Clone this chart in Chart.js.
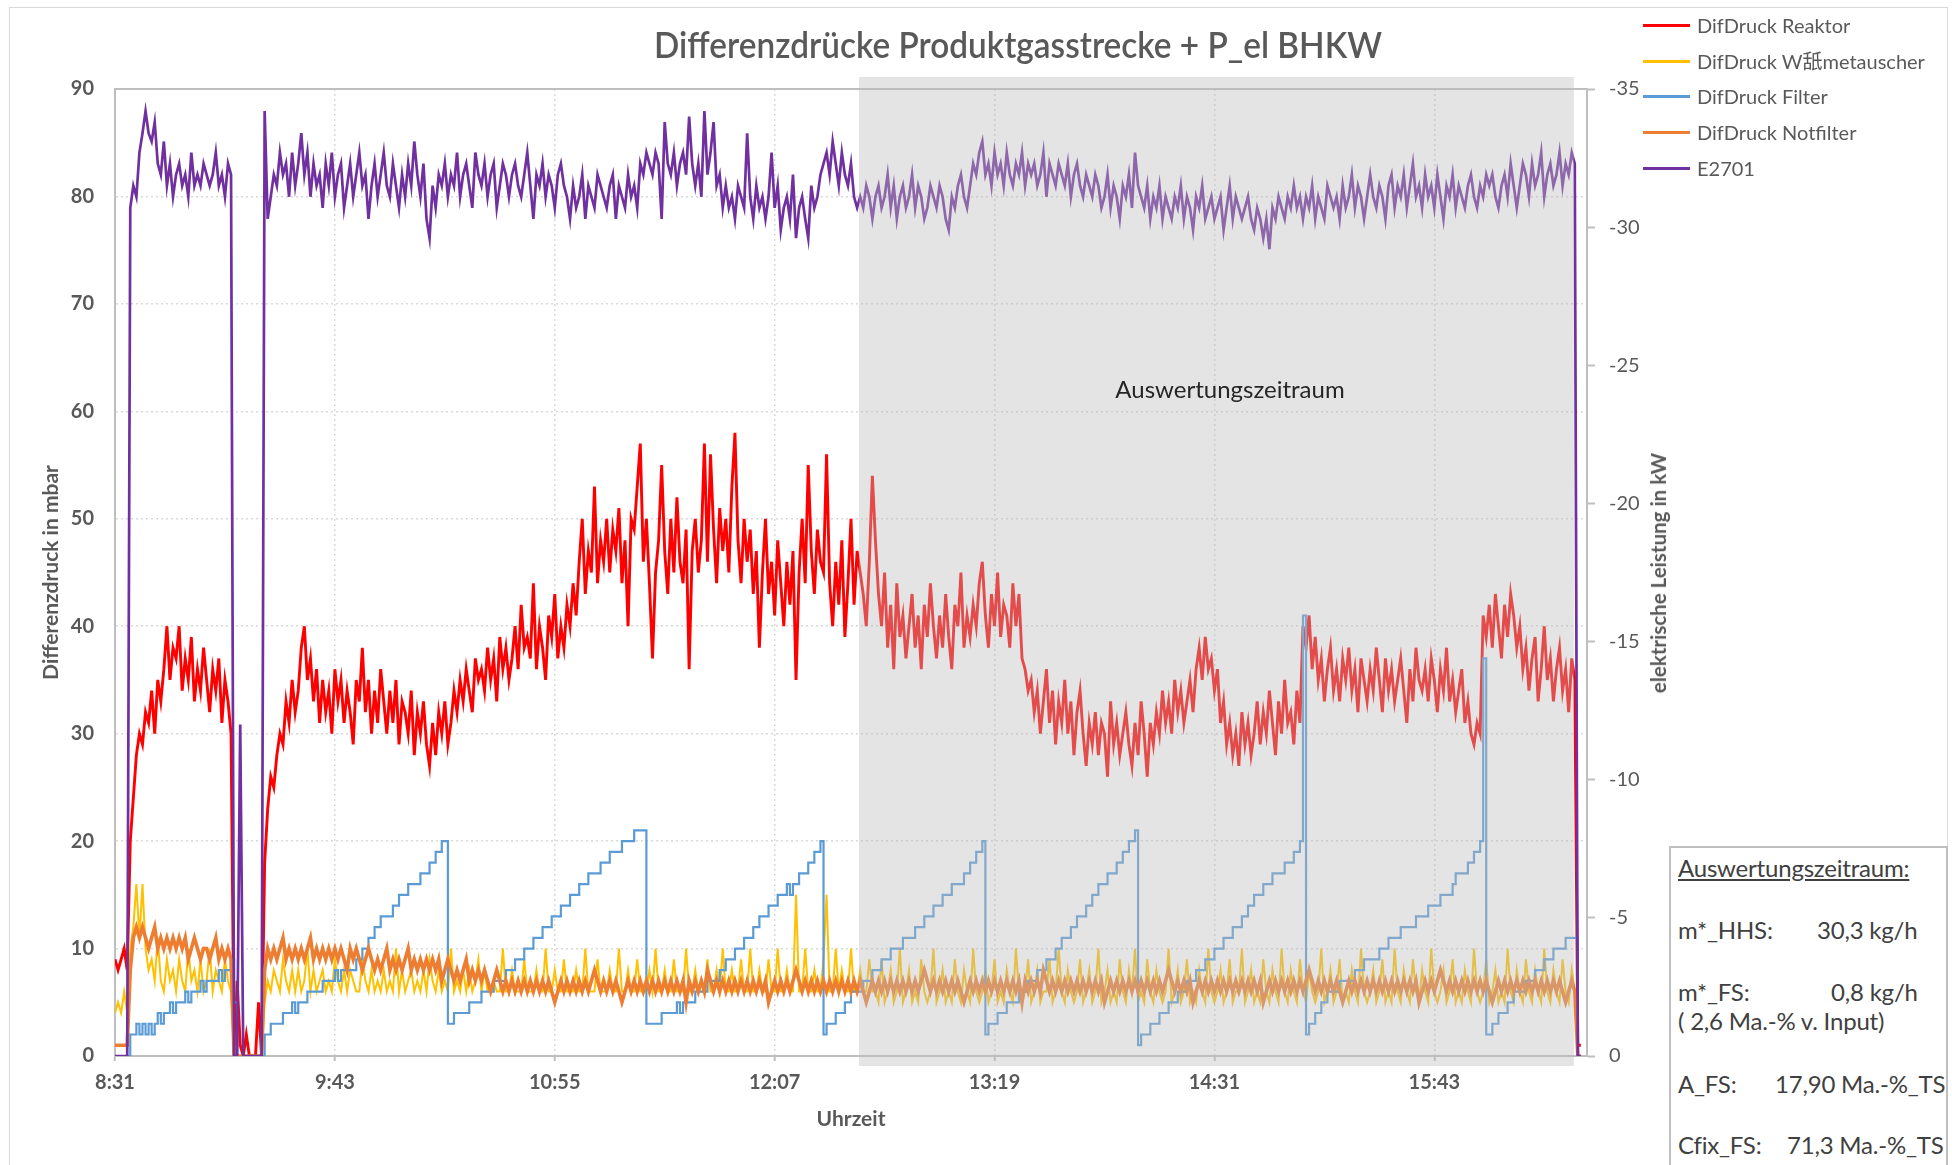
<!DOCTYPE html>
<html><head><meta charset="utf-8">
<script src="https://cdn.jsdelivr.net/npm/chart.js@4.4.1/dist/chart.umd.min.js"></script>
<style>
body{margin:0;background:#fff;}
#wrap{position:relative;width:1952px;height:1165px;overflow:hidden;font-family:Lato,"Noto Sans CJK SC",sans-serif;background:#fff;}
#c{position:absolute;left:0;top:0;}
#frame{position:absolute;left:9px;top:7px;width:1939px;height:1200px;border:1.5px solid #d9d9d9;box-sizing:border-box;}
#title{position:absolute;left:1018px;top:44px;font-size:36px;font-weight:600;color:#595959;white-space:nowrap;transform:translate(-50%,-50%);}
.lg{position:absolute;left:1643px;height:26px;white-space:nowrap;font-size:20px;color:#595959;}
.lg .ln{position:absolute;left:0;top:12px;width:47px;height:3px;}
.lg .tx{position:absolute;left:54px;top:0;line-height:26px;}
#ytitle2{position:absolute;left:1658px;top:573px;font-size:20.5px;font-weight:bold;color:#595959;white-space:nowrap;transform:translate(-50%,-50%) rotate(-90deg);}
#shadeLabel{position:absolute;left:1230px;top:388px;font-size:24px;color:#262626;white-space:nowrap;transform:translate(-50%,-50%);}
#box{position:absolute;left:1669px;top:846px;width:279px;height:340px;border:2px solid #bfbfbf;background:#fff;box-sizing:border-box;}
.bt{position:absolute;font-size:24px;color:#404040;white-space:nowrap;line-height:30px;letter-spacing:-0.2px;}
</style></head>
<body><div id="wrap">
<div id="frame"></div>
<canvas id="c" width="1952" height="1165"></canvas>
<div id="title">Differenzdrücke Produktgasstrecke + P_el BHKW</div>
<div id="legend"></div>
<div id="ytitle2">elektrische Leistung in kW</div>
<div id="shadeLabel">Auswertungszeitraum</div>
<div id="box"></div>
<div class="bt" style="left:1678px;top:853px;text-decoration:underline;">Auswertungszeitraum:</div>
<div class="bt" style="left:1678px;top:915px;">m*_HHS:</div>
<div class="bt" style="left:1817px;top:915px;">30,3 kg/h</div>
<div class="bt" style="left:1678px;top:977px;">m*_FS:</div>
<div class="bt" style="left:1831px;top:977px;">0,8 kg/h</div>
<div class="bt" style="left:1678px;top:1006px;">( 2,6 Ma.-% v. Input)</div>
<div class="bt" style="left:1678px;top:1069px;">A_FS:</div>
<div class="bt" style="left:1775px;top:1069px;">17,90 Ma.-%_TS</div>
<div class="bt" style="left:1678px;top:1130px;">Cfix_FS:</div>
<div class="bt" style="left:1787px;top:1130px;">71,3 Ma.-%_TS</div>
</div>
<script>
// ---------- data (one sample per minute, starting 8:31) ----------
const sampleMinutes = 1;
const timeTickMinutes = [0, 72, 144, 216, 288, 360, 432];
const timeTickLabels = ["8:31", "9:43", "10:55", "12:07", "13:19", "14:31", "15:43"];
const xMaxMinutes = 482;
const shadeFrom = 243.6, shadeTo = 477.7;   // Auswertungszeitraum (minutes after 8:31)

const difDruckReaktor = [
9,8,9,10,8,20,24,28,30,29,
32,31,34,30,35,33,36,40,35,38,
37,40,34,37,35,39,33,36,34,38,
35,32,36,34,37,31,35,33,30,0,
7,1,0,2,0,0,0,5,0,18,
23,26,25,28,30,29,33,31,35,32,
34,38,40,35,37,33,36,31,35,32,
34,30,36,33,35,31,34,32,29,35,
33,38,32,35,30,34,31,36,33,30,
34,31,35,29,33,32,30,34,28,32,
30,33,29,27,31,28,32,30,33,29,
31,34,32,35,33,36,34,32,37,35,
36,34,38,35,37,33,39,36,38,35,
37,40,36,42,38,39,37,44,36,40,
38,35,41,39,43,37,40,38,42,40,
44,41,46,50,43,47,45,53,44,48,
46,50,45,49,47,51,44,48,40,50,
49,53,57,46,50,44,37,45,48,55,
47,43,50,45,52,46,44,49,36,47,
50,45,48,57,46,56,49,44,51,47,
50,45,53,58,48,44,50,46,49,43,
47,38,45,50,43,46,41,48,44,40,
46,42,47,35,45,50,44,55,47,43,
49,46,45,56,44,40,46,42,48,39,
44,50,42,47,45,43,40,46,54,48,
43,40,45,38,42,36,44,39,41,37,
40,43,38,41,36,42,39,44,40,37,
41,38,43,39,36,42,40,45,38,41,
39,42,40,44,46,41,38,43,40,45,
39,42,41,38,44,40,43,37,36,34,
35,32,34,30,33,36,31,34,29,33,
31,35,30,33,28,32,34,30,27,31,
29,32,28,31,30,26,33,29,31,28,
30,32,29,27,31,28,33,30,26,31,
29,32,30,34,31,33,30,35,32,34,
31,33,35,32,36,38,35,39,36,37,
34,36,31,33,29,31,28,30,27,32,
29,31,28,30,33,29,32,30,34,31,
28,33,30,35,31,32,29,34,31,40,
38,41,36,39,35,37,33,36,38,34,
36,33,37,35,38,34,36,32,37,35,
33,36,34,38,35,32,37,34,36,33,
35,37,34,31,36,33,38,35,34,36,
33,37,35,32,36,34,38,33,35,32,
34,36,31,33,30,29,31,30,41,39,
42,38,43,40,37,42,39,43,41,38,
40,36,38,34,37,39,33,36,40,35,
37,33,36,38,34,36,32,37,35,1,
1];

const difDruckWaermetauscher = [
4,5,4,6,4,10,12,16,11,16,
10,8,9,7,11,7,6,9,7,8,
6,9,7,6,10,7,8,6,9,6,
7,10,6,8,7,6,9,7,6,0,
0,0,0,0,0,0,0,0,0,5,
7,6,8,7,6,9,7,6,8,6,
8,6,7,10,6,8,6,7,8,6,
7,6,9,7,6,8,6,8,7,6,
6,9,7,6,8,6,7,6,8,6,
7,6,10,6,8,6,7,8,6,7,
6,8,6,9,7,6,8,6,7,6,
10,6,7,6,8,6,8,6,7,9,
6,8,6,6,7,6,6,10,6,6,
8,6,6,6,9,6,6,6,8,6,
6,10,6,6,8,6,6,9,6,6,
6,8,6,6,10,6,6,6,9,6,
6,6,8,6,6,10,6,6,8,6,
6,9,6,6,6,8,6,10,6,6,
8,6,6,9,6,6,6,10,6,6,
8,6,6,6,9,6,6,8,6,10,
6,6,8,6,6,9,6,6,10,6,
6,8,6,6,9,6,6,10,6,6,
8,6,6,15,6,6,10,6,6,8,
6,6,9,15,6,6,10,6,8,6,
6,10,6,6,8,6,6,9,6,6,
5,9,5,6,8,5,6,10,5,6,
8,5,6,5,9,6,5,6,10,5,
6,8,5,6,5,9,6,5,8,6,
5,10,6,5,6,8,5,6,9,5,
6,5,8,6,5,10,6,5,6,9,
5,6,8,5,6,6,9,5,6,10,
6,5,8,6,5,6,9,5,6,8,
5,6,10,5,6,8,5,6,5,9,
6,5,8,6,10,5,6,5,9,6,
5,8,6,5,6,10,5,6,8,5,
6,9,5,6,5,8,6,5,10,6,
5,6,8,5,6,9,5,6,6,10,
5,6,8,5,6,5,9,6,5,8,
6,5,10,6,5,8,6,5,9,6,
5,8,6,5,6,10,5,6,8,5,
6,9,5,6,5,8,6,5,10,6,
5,6,8,5,6,9,5,6,5,10,
6,5,8,6,5,9,6,5,8,6,
5,10,6,5,6,8,5,6,9,5,
6,5,8,6,5,10,6,5,6,9,
5,6,8,5,6,5,10,6,5,8,
6,5,9,6,5,8,6,5,10,6,
5,8,6,5,9,6,5,8,6,0,
0];

const difDruckFilter = [
0,0,0,0,0,2,2,3,2,3,
2,3,2,3,4,3,4,4,5,4,
5,5,5,6,5,6,6,6,7,6,
7,7,7,7,8,7,8,8,9,5,
0,0,0,0,0,0,0,0,0,2,
2,3,3,3,3,4,4,4,5,4,
5,5,5,6,6,6,6,6,7,7,
7,7,8,7,8,8,8,8,8,9,
9,10,10,11,11,12,12,13,13,13,
13,14,14,15,15,15,16,16,16,16,
17,17,17,18,18,19,19,20,20,3,
3,4,4,4,4,4,5,5,5,5,
6,6,6,6,7,7,7,7,8,8,
8,9,9,9,10,10,10,11,11,11,
12,12,12,13,13,13,14,14,14,15,
15,15,16,16,16,17,17,17,17,18,
18,18,19,19,19,19,20,20,20,20,
21,21,21,21,3,3,3,3,3,4,
4,4,4,4,5,4,5,5,5,5,
6,6,6,6,7,7,7,7,8,8,
9,9,9,10,10,10,11,11,11,12,
12,13,13,13,14,14,14,15,15,15,
16,15,16,16,17,17,17,18,18,19,
19,20,2,3,3,3,4,4,4,5,
5,6,6,6,6,7,7,7,8,8,
8,9,9,9,10,10,10,10,11,11,
11,11,12,12,12,13,13,13,14,14,
14,15,15,15,16,16,16,16,17,17,
18,18,19,19,20,2,3,3,3,4,
4,4,5,5,5,5,6,6,6,7,
7,7,8,8,8,9,9,9,10,10,
11,11,11,12,12,13,13,13,14,14,
15,15,16,16,16,17,17,17,18,18,
19,19,20,20,21,1,2,2,2,3,
3,3,4,4,4,5,5,5,6,6,
6,7,7,7,8,8,8,9,9,9,
10,10,10,11,11,11,12,12,12,13,
13,14,14,15,15,15,16,16,16,17,
17,17,17,18,18,18,19,19,20,41,
2,3,3,4,4,5,5,6,6,6,
6,7,7,7,7,7,8,8,8,9,
9,9,9,9,10,10,10,11,11,11,
11,12,12,12,12,12,13,13,13,13,
14,14,14,14,15,15,15,15,16,17,
17,17,17,18,18,19,19,20,37,2,
2,3,3,4,4,4,5,5,6,6,
6,6,7,7,7,8,8,8,9,9,
9,10,10,10,10,11,11,11,11,0,
0];

const difDruckNotfilter = [
1,1,1,1,1,8,11,12,11,12,
11,10,11,12,10,11,10,11,10,11,
10,11,10,11,9,10,11,10,9,10,
10,9,10,11,9,10,9,10,9,0,
0,0,0,0,0,0,0,0,0,8,
10,9,10,9,10,11,9,10,9,10,
9,10,9,10,11,9,10,9,10,9,
10,9,10,9,10,9,8,10,9,10,
9,8,9,10,9,8,9,8,9,10,
8,9,8,9,8,9,10,8,9,8,
9,8,9,8,9,8,9,7,8,9,
8,7,8,7,8,9,7,8,7,8,
7,8,7,6,7,8,7,6,7,6,
7,6,7,6,7,6,7,6,7,6,
7,6,7,6,5,6,7,6,7,6,
7,6,7,6,7,6,7,8,7,6,
7,6,7,6,7,6,5,6,7,6,
7,6,7,6,7,6,7,6,7,6,
7,6,7,6,7,6,7,5,7,6,
7,6,7,6,8,7,6,7,6,7,
6,7,6,7,6,7,6,7,6,7,
6,7,6,7,5,6,7,6,7,6,
7,6,7,8,7,6,7,6,7,6,
7,6,7,6,7,6,7,6,7,6,
7,6,7,6,7,6,5,6,7,6,
7,6,7,6,7,6,7,6,7,6,
7,6,7,6,7,8,7,6,7,6,
7,6,7,6,7,6,7,6,5,6,
7,6,7,6,7,6,7,6,7,6,
7,6,7,6,7,6,7,5,7,6,
7,6,7,6,8,7,6,7,6,7,
6,7,6,7,6,7,6,7,6,7,
6,7,6,7,5,6,7,6,7,6,
7,6,7,6,7,6,7,6,7,6,
7,6,7,6,7,8,7,6,7,6,
7,6,7,5,6,7,6,7,6,7,
6,7,6,7,6,7,6,7,6,7,
6,7,6,7,6,7,5,6,7,6,
7,6,7,6,7,6,7,6,7,6,
7,8,7,6,7,6,7,6,7,6,
7,6,5,6,7,6,7,6,7,6,
7,6,7,6,7,6,7,6,7,6,
7,6,7,6,7,6,7,5,6,7,
6,7,6,7,8,7,6,7,6,7,
6,7,6,7,6,7,6,7,6,7,
6,5,6,7,6,7,6,7,6,7,
6,7,6,7,6,7,6,7,6,7,
6,7,6,7,6,5,6,7,6,0,
0];

// E2701 electrical power in kW (right axis, negative values)
const e2701 = [
0,0,0,0,0,-30.7,-31.5,-31.1,-32.7,-33.4,
-34.2,-33.4,-33.1,-33.8,-32.3,-31.9,-33.1,-31.5,-32.3,-31.1,
-31.9,-32.3,-31.5,-31.9,-31.1,-32.7,-31.5,-31.9,-31.5,-32.3,
-31.9,-31.5,-31.9,-32.7,-31.5,-31.9,-31.1,-32.3,-31.9,0,
0,-12,0,0,0,0,0,0,0,-34.2,
-30.3,-31.1,-31.9,-31.5,-32.7,-31.9,-32.3,-31.1,-32.7,-31.5,
-32.3,-33.4,-31.9,-32.7,-31.1,-32.3,-31.5,-31.9,-30.7,-32.3,
-31.5,-32.7,-31.1,-31.9,-32.3,-30.7,-31.5,-32.3,-31.1,-31.9,
-32.7,-31.5,-31.9,-30.3,-31.5,-32.3,-31.1,-31.9,-32.7,-31.5,
-31.1,-32.3,-31.5,-30.7,-31.9,-31.1,-32.3,-31.5,-33.1,-31.9,
-31.1,-32.3,-30.3,-29.6,-31.5,-30.7,-31.9,-31.5,-32.3,-31.1,
-31.9,-31.5,-32.7,-31.1,-31.9,-32.3,-31.5,-30.7,-32.7,-31.9,
-31.5,-32.3,-31.1,-31.9,-32.3,-30.7,-31.5,-32.3,-31.9,-31.1,
-31.9,-32.3,-31.5,-31.1,-31.9,-32.7,-31.5,-30.3,-31.9,-31.5,
-32.3,-31.1,-31.9,-31.5,-30.7,-31.9,-32.3,-31.5,-31.1,-30.3,
-31.5,-30.7,-31.1,-31.9,-30.3,-31.5,-31.1,-30.7,-31.9,-31.5,
-31.1,-30.7,-31.5,-31.9,-30.3,-31.5,-31.1,-30.7,-31.9,-31.1,
-31.5,-30.7,-32.3,-31.9,-32.7,-32.3,-31.9,-32.7,-32.3,-30.3,
-33.8,-32.3,-31.9,-32.7,-31.5,-32.3,-32.7,-31.9,-34.0,-32.3,
-31.5,-32.3,-31.1,-34.2,-31.9,-32.7,-33.8,-31.5,-31.9,-30.7,
-31.5,-30.7,-31.1,-30.3,-31.5,-31.1,-30.7,-33.4,-31.1,-30.3,
-31.5,-30.7,-31.1,-30.3,-31.1,-32.7,-30.7,-31.5,-29.9,-30.7,
-31.1,-30.3,-31.9,-29.6,-30.7,-31.1,-30.3,-29.6,-31.5,-30.7,
-31.1,-31.9,-32.3,-32.7,-31.9,-33.1,-32.3,-31.5,-32.7,-31.9,
-31.5,-32.3,-31.1,-30.7,-31.1,-30.7,-31.5,-31.1,-30.3,-31.1,
-31.5,-30.7,-31.1,-31.9,-30.7,-31.5,-30.3,-31.1,-31.5,-30.7,
-31.1,-31.9,-30.7,-31.5,-31.1,-30.3,-30.7,-31.5,-31.1,-30.7,
-31.5,-31.1,-30.3,-29.9,-31.1,-30.7,-31.5,-31.9,-31.1,-30.7,
-31.5,-32.3,-31.9,-32.7,-33.1,-31.9,-32.3,-31.5,-32.7,-31.9,
-32.3,-31.5,-32.7,-31.9,-31.5,-32.3,-31.9,-32.7,-31.5,-32.3,
-31.9,-32.3,-31.5,-31.9,-32.7,-31.1,-32.3,-31.9,-31.5,-32.3,
-31.9,-31.5,-32.3,-31.1,-31.9,-32.3,-31.5,-31.1,-31.9,-31.5,
-31.1,-31.9,-31.5,-30.7,-31.1,-31.9,-30.7,-31.5,-31.1,-30.3,
-31.5,-31.1,-31.9,-30.7,-32.7,-31.5,-31.1,-30.7,-31.5,-30.3,
-31.1,-30.7,-31.5,-30.3,-31.1,-30.7,-30.3,-31.1,-30.7,-31.5,
-30.3,-31.1,-30.7,-29.9,-31.1,-30.7,-31.5,-30.3,-30.7,-31.1,
-30.3,-30.7,-31.1,-29.9,-30.7,-31.5,-30.3,-31.1,-30.7,-30.3,
-30.7,-31.1,-30.3,-29.9,-30.7,-30.3,-29.6,-30.3,-29.2,-30.7,
-30.3,-31.1,-30.7,-30.3,-31.1,-30.7,-31.5,-30.7,-31.1,-30.3,
-31.1,-30.7,-31.5,-30.3,-31.1,-30.7,-30.3,-31.5,-31.1,-30.7,
-31.1,-30.3,-31.5,-30.7,-31.1,-31.9,-30.7,-31.5,-31.1,-30.3,
-31.1,-31.9,-31.1,-30.7,-31.5,-31.1,-30.3,-31.5,-31.9,-30.7,
-31.5,-31.1,-31.9,-30.7,-31.5,-32.3,-31.1,-31.5,-30.7,-31.9,
-31.1,-31.5,-30.7,-31.9,-31.1,-30.3,-31.5,-31.1,-31.9,-30.7,
-31.5,-31.1,-30.7,-31.5,-31.9,-31.1,-30.7,-31.5,-31.1,-31.9,
-31.5,-31.9,-31.1,-30.7,-31.5,-31.9,-31.1,-32.3,-31.5,-30.7,
-31.5,-32.3,-31.9,-31.1,-32.3,-31.5,-31.9,-32.7,-31.1,-31.9,
-32.3,-31.5,-31.9,-32.7,-31.5,-32.3,-31.9,-32.7,-32.3,0,
0];

const seriesLabels = ["DifDruck Reaktor", "DifDruck W\u8210metauscher", "DifDruck Filter", "DifDruck Notfilter", "E2701"];
const seriesColors = ["#ff0000", "#ffc000", "#5b9bd5", "#ed7d31", "#7030a0"];

// ---------- chart ----------
const FONT = 'Lato, "Noto Sans CJK SC", sans-serif';
Chart.defaults.font.family = FONT;
const minutes = difDruckReaktor.map((_, i) => i * sampleMinutes);

const shadePlugin = {
  id: 'shade',
  afterDatasetsDraw(chart) {
    const {ctx, chartArea, scales: {x}} = chart;
    const x1 = x.getPixelForValue(shadeFrom), x2 = x.getPixelForValue(shadeTo);
    ctx.save();
    ctx.fillStyle = 'rgba(188,188,188,0.4)';
    ctx.fillRect(x1, chartArea.top - 12, x2 - x1, chartArea.bottom - chartArea.top + 22);
    ctx.restore();
  }
};

const seriesData = [difDruckReaktor, difDruckWaermetauscher, difDruckFilter, difDruckNotfilter, e2701];
const widths = [2.9, 2, 2.2, 3.6, 2.7];
const orders = [5, 4, 3, 2, 1];
const datasets = seriesData.map((d, i) => ({
  label: seriesLabels[i],
  data: d,
  borderColor: seriesColors[i],
  backgroundColor: seriesColors[i],
  borderWidth: widths[i],
  pointRadius: 0,
  tension: 0,
  fill: false,
  order: orders[i],
  stepped: i === 2,
  yAxisID: i === 4 ? 'y2' : 'y'
}));

const gridDash = (c) => (c.tick && c.tick.value === 90) ? [] : [2, 3];

new Chart(document.getElementById('c'), {
  type: 'line',
  data: {labels: minutes, datasets},
  options: {
    responsive: false,
    animation: false,
    devicePixelRatio: 1,
    layout: {padding: {top: 89, left: 0, right: 0, bottom: 0}},
    plugins: {legend: {display: false}, tooltip: {enabled: false}, title: {display: false}},
    scales: {
      x: {
        type: 'linear', min: 0, max: xMaxMinutes,
        afterBuildTicks: (s) => { s.ticks = timeTickMinutes.map(v => ({value: v})); },
        afterFit: (s) => { s.height = 109; },
        ticks: {
          autoSkip: false, maxRotation: 0, padding: 10, color: '#595959',
          font: {size: 20, weight: 'bold'},
          callback: (v) => timeTickLabels[timeTickMinutes.indexOf(v)]
        },
        grid: {
          color: (c) => (c.tick && c.tick.value === 0) ? 'rgba(0,0,0,0)' : '#d9d9d9',
          lineWidth: 1.5, tickLength: 5, tickColor: '#bfbfbf', tickWidth: 2
        },
        border: {color: '#bfbfbf', width: 2, dash: [2, 3]},
        title: {display: true, text: 'Uhrzeit', color: '#595959', font: {size: 21, weight: 'bold'}, padding: {top: 0, bottom: 33}}
      },
      y: {
        position: 'left', min: 0, max: 90,
        afterFit: (s) => { s.width = 115; },
        ticks: {stepSize: 10, padding: 21, color: '#595959', font: {size: 20, weight: 'bold'}},
        grid: {
          drawTicks: false,
          color: (c) => (c.tick && c.tick.value === 90) ? '#bfbfbf' : ((c.tick && c.tick.value === 0) ? 'rgba(0,0,0,0)' : '#d9d9d9'),
          lineWidth: (c) => (c.tick && c.tick.value === 90) ? 2 : 1.5
        },
        border: {color: '#bfbfbf', width: 2, dash: gridDash},
        title: {display: true, text: 'Differenzdruck in mbar', color: '#595959', font: {size: 21, weight: 'bold'}, padding: {top: 39, bottom: 0}}
      },
      y2: {
        position: 'right', min: -35, max: 0, reverse: true,
        afterFit: (s) => { s.width = 365; },
        ticks: {stepSize: 5, padding: 14, color: '#595959', font: {size: 20, weight: 'normal'}},
        grid: {drawOnChartArea: false, tickLength: 8, tickColor: '#bfbfbf', tickWidth: 2},
        border: {color: '#bfbfbf', width: 2}
      }
    }
  },
  plugins: [shadePlugin]
});

// ---------- legend ----------
const legendRows = [25, 61, 96, 132, 168];
const lg = document.getElementById('legend');
seriesLabels.forEach((t, i) => {
  const row = document.createElement('div');
  row.className = 'lg';
  row.style.top = (legendRows[i] - 13) + 'px';
  row.innerHTML = '<div class="ln" style="background:' + seriesColors[i] + '"></div><div class="tx"></div>';
  row.querySelector('.tx').textContent = t;
  lg.appendChild(row);
});

// ---------- title condensed to reference width ----------
const tEl = document.getElementById('title');
const k = 728 / tEl.getBoundingClientRect().width;
tEl.style.transform = 'translate(-50%,-50%) scaleX(' + k.toFixed(3) + ')';
</script>
</body></html>
